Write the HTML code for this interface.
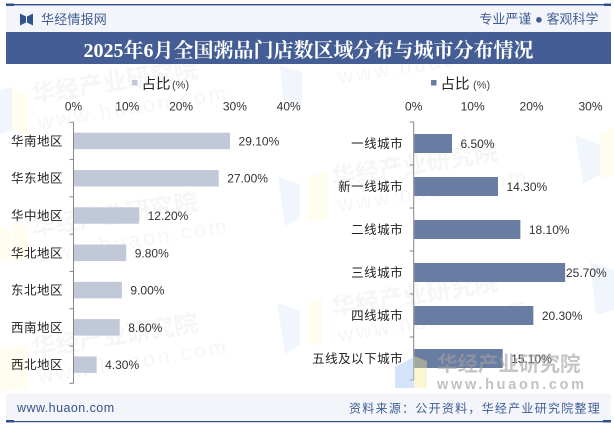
<!DOCTYPE html>
<html lang="zh">
<head>
<meta charset="utf-8">
<title>2025年6月全国粥品门店数区域分布与城市分布情况</title>
<style>
html,body{margin:0;padding:0;background:#fff;}
#stage{display:block;position:relative;width:614px;height:425px;overflow:hidden;}
text{font-family:"Liberation Sans","Noto Sans CJK SC",sans-serif;}
</style>
</head>
<body>
<svg id="stage" xmlns="http://www.w3.org/2000/svg" width="614" height="425" viewBox="0 0 614 425">
  <g id="wm">
    <path d="M0 90 L12 87 L12 130 L0 134 Z" fill="#f1f6fd"/>
    <path d="M12 87 L28 95 L28 135 L12 130 Z" fill="#fffdf0"/>
    <path d="M280 66 L302 72 L302 105 L283 100 Z" fill="#f1f6fd"/>
    <path d="M278 177 L300 184 L300 218 L285 226 Z" fill="#f1f6fd"/>
    <path d="M277 303 L300 310 L300 345 L285 354 Z" fill="#f1f6fd"/>
    <path d="M0 226 L10 232 L10 258 L0 262 Z M12 222 L27 225 L27 260 L12 262 Z" fill="#fffdf0"/>
    <path d="M0 348 L27 345 L27 388 L0 392 Z" fill="#fffdf0"/>
    <path d="M575 135 L600 145 L600 175 L583 184 Z" fill="#f1f6fd"/>
    <path d="M600 132 L614 128 L614 176 L600 178 Z" fill="#fffdf0"/>
    <path d="M307 178 L327 170 L327 218 L307 222 Z" fill="#fffdf0"/>
    <path d="M307 303 L322 298 L322 345 L307 345 Z" fill="#fffdf0"/>
    <path d="M590 262 L614 270 L614 310 L596 315 Z" fill="#f1f6fd"/>
  </g>
  <g id="wm-text"></g>
  <g>
    <rect x="6" y="5" width="605" height="27" fill="#f3f5fa"/>
    <rect x="6" y="4" width="605" height="1.4" fill="#2f4f8f"/>
    <rect x="6" y="3.5" width="8" height="2.5" fill="#2f4f8f"/>
    <rect x="604" y="3.5" width="7" height="2.5" fill="#2f4f8f"/>
    <path d="M20 13.500 L26 16.500 L26 22.500 L20 25.500 Z M33 13.500 L27 16.500 L27 22.500 L33 25.500 Z" fill="#2f5590"/>
    <text x="41" y="24" font-size="13" letter-spacing="0.2" fill="#3f5d95">华经情报网</text>
    <text x="598.500" y="23.500" font-size="13" text-anchor="end" fill="#3f5d95">专业严谨 ● 客观科学</text>
    <rect x="6" y="32" width="605" height="32" fill="#445e95"/>
    <text x="308.500" y="57" font-size="20" font-weight="700" text-anchor="middle" fill="#fff" style='font-family:"Liberation Serif","Noto Serif CJK SC",serif'>2025年6月全国粥品门店数区域分布与城市分布情况</text>
  </g>
  <g id="left-chart"></g>
  <g id="right-chart"></g>
  <g id="wm-front"></g>
  <g>
    <rect x="6" y="394" width="605" height="27" fill="#f3f5fa"/>
    <rect x="6" y="421" width="605" height="1.2" fill="#2f4f8f"/>
    <rect x="6" y="420" width="8" height="2.5" fill="#2f4f8f"/>
    <rect x="603" y="420" width="8" height="2.5" fill="#2f4f8f"/>
    <text x="17" y="412" font-size="12.500" letter-spacing="0.45" fill="#34528c">www.huaon.com</text>
    <text x="601" y="412.500" font-size="12" letter-spacing="1.260" text-anchor="end" fill="#3f5d95">资料来源：公开资料，华经产业研究院整理</text>
  </g>
</svg>
<script>
var regionCategories = ["华南地区","华东地区","华中地区","华北地区","东北地区","西南地区","西北地区"];
var regionValues = [29.1,27.0,12.2,9.8,9.0,8.6,4.3];
var regionTicks = [0,10,20,30,40];
var cityCategories = ["一线城市","新一线城市","二线城市","三线城市","四线城市","五线及以下城市"];
var cityValues = [6.5,14.3,18.1,25.7,20.3,15.1];
var cityTicks = [0,10,20,30];
var seriesName = "占比";
var seriesUnit = "(%)";

var NS = "http://www.w3.org/2000/svg";
function mk(parent, tag, attrs, text){
  var el = document.createElementNS(NS, tag);
  for (var k in attrs) el.setAttribute(k, attrs[k]);
  if (text !== undefined) el.textContent = text;
  parent.appendChild(el);
  return el;
}

function drawChart(rootId, cats, vals, ticks, cfg){
  var root = document.getElementById(rootId);
  var maxTick = ticks[ticks.length-1];
  function xScale(v){ return cfg.x0 + (cfg.x1 - cfg.x0) * v / maxTick; }
  var band = (cfg.yBottom - cfg.yTop) / cats.length;
  function yBand(i){ return cfg.yTop + band * i; }

  var sw = mk(root, "rect", {x:cfg.legendX, y:80, width:5.500, height:5.500, fill:cfg.color});
  
  
  var lt = mk(root, "text", {x:cfg.legendX+9.500, y:89, "font-size":14.500, fill:"#222"}, seriesName);
  
  
  var lu = mk(root, "text", {x:cfg.legendX+cfg.unitDx, y:88.500, "font-size":11, fill:"#444"}, seriesUnit);
  
  

  ticks.forEach(function(t){
    var tl = mk(root, "text", {x:xScale(t), y:110.500, "font-size":12, "text-anchor":"middle", fill:"#333"}, t + "%");
    
    
  });

  var axis = mk(root, "line", {x1:cfg.x0, x2:cfg.x0, y1:cfg.yTop, y2:cfg.yBottom, stroke:"#868686", "stroke-width":1});
  
  
  for (var i = 0; i <= cats.length; i++){
    var tk = mk(root, "line", {x1:cfg.x0-4, x2:cfg.x0, y1:yBand(i), y2:yBand(i), stroke:"#868686", "stroke-width":1});
    
    
  }

  cats.forEach(function(c, i){
    var cy = yBand(i) + band / 2;
    var bar = mk(root, "rect", {x:cfg.x0+0.500, y:cy-cfg.barH/2, width:xScale(vals[i])-cfg.x0-0.500, height:cfg.barH, fill:cfg.color});
    
    
    var cl = mk(root, "text", {x:cfg.x0-10.500, y:cy+4.500, "font-size":12.500, "letter-spacing":0.5, "text-anchor":"end", fill:"#222"}, c);
    
    
    var vl = mk(root, "text", {x:Math.min(xScale(vals[i])+8.500, cfg.labelMaxX), y:cy+4.500, "font-size":12, fill:"#333"}, vals[i].toFixed(2) + "%");
    
    
  });
}

drawChart("left-chart", regionCategories, regionValues, regionTicks,
  {x0:73.500, x1:288.700, yTop:122.300, yBottom:383.300, barH:16.500, color:"#c1c9d9", legendX:132, unitDx:40, labelMaxX:600});
drawChart("right-chart", cityCategories, cityValues, cityTicks,
  {x0:413.700, x1:590.500, yTop:122, yBottom:380, barH:19, color:"#697ca2", legendX:431, unitDx:42, labelMaxX:566});

var wmSpots = [
  {x:33,y:103},{x:33,y:236},{x:33,y:357},
  {x:333,y:58},{x:333,y:186},{x:333,y:316}
];
var wmRoot = document.getElementById("wm-text");
wmSpots.forEach(function(s){
  var g = mk(wmRoot, "g", {transform:"translate("+s.x+" "+s.y+") rotate(-9)", fill:"#f6f6f6"});
  
  
  var a = mk(g, "text", {x:0, y:0, "font-size":24, "font-weight":700}, "华经产业研究院");
  
  
  var b = mk(g, "text", {x:2, y:27, "font-size":21, "letter-spacing":3}, "www.huaon.com");
  
  
});

var wf = document.getElementById("wm-front");
var s1 = mk(wf, "path", {d:"M395 367 L414 357 L414 388 L395 388 Z", fill:"#abc9f5", opacity:0.5});


var s2 = mk(wf, "path", {d:"M414 356 L427 361 L427 388 L414 388 Z", fill:"#fbe98f", opacity:0.4});


var f1 = mk(wf, "text", {x:437, y:371, "font-size":20.500, "font-weight":700, fill:"#a0a0a0", opacity:0.6}, "华经产业研究院");


var f2 = mk(wf, "text", {x:437, y:389, "font-size":14.500, "font-weight":700, "letter-spacing":2.700, fill:"#a0a0a0", opacity:0.65}, "www.huaon.com");


</script>
</body>
</html>
